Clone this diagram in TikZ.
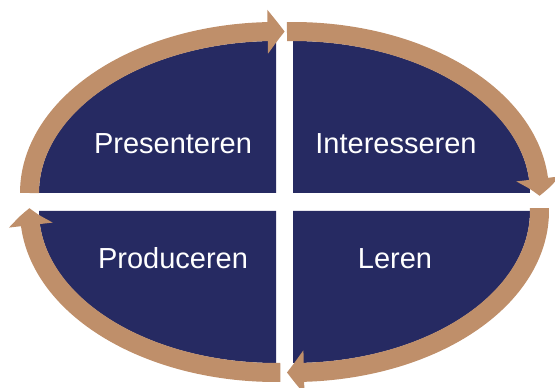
\documentclass[tikz,border=0pt]{standalone}
\usepackage{fontspec}
\setmainfont{Liberation Sans}
\usetikzlibrary{arrows.meta,bending}
\definecolor{navy}{HTML}{262A62}
\definecolor{cycletan}{HTML}{BF8F6A}

\begin{document}
\begin{tikzpicture}[x=1pt,y=1pt,
   quarter/.style={fill=navy},
   band/.style={draw=cycletan,line width=19pt,-{Triangle[width=43pt,length=17pt,bend]}},
   word/.style={text=white,font=\fontsize{29}{34}\selectfont,anchor=base}]
   \useasboundingbox (0,0) rectangle (555,388);
   \coordinate (tl) at (276,195);
   \coordinate (tr) at (293,195);
   \coordinate (bl) at (276,177);
   \coordinate (br) at (293,177);
   % four quarters of the ellipse
   \fill[quarter] (tl) -- ++(180:237pt and 152pt) arc[start angle=180,end angle=90,x radius=237pt,y radius=152pt] -- cycle;
   \fill[quarter] (tr) -- ++(90:237pt and 152pt) arc[start angle=90,end angle=0,x radius=237pt,y radius=152pt] -- cycle;
   \fill[quarter] (br) -- ++(0:237pt and 152pt) arc[start angle=0,end angle=-90,x radius=237pt,y radius=152pt] -- cycle;
   \fill[quarter] (bl) -- ++(-90:237pt and 152pt) arc[start angle=-90,end angle=-180,x radius=237pt,y radius=152pt] -- cycle;
   % arrows round the cycle
   \draw[band] (tl) ++(180:246.5pt and 161.5pt) arc[start angle=180,end angle=88,x radius=246.5pt,y radius=161.5pt];
   \draw[band] (tr) ++(91.4:246.5pt and 161.5pt) arc[start angle=91.4,end angle=-1,x radius=246.5pt,y radius=161.5pt];
   \draw[band] (br) ++(1:246.5pt and 161.5pt) arc[start angle=1,end angle=-91.4,x radius=246.5pt,y radius=161.5pt];
   \draw[band] (bl) ++(-89:246.5pt and 161.5pt) arc[start angle=-89,end angle=-181,x radius=246.5pt,y radius=161.5pt];
   \node[word] (pres) at (173,234) {Presenteren};
   \node[word] (inte) at (396,234) {Interesseren};
   \node[word] (prod) at (173,119) {Produceren};
   \node[word] (leren) at (395,119) {Leren};
\end{tikzpicture}
\end{document}
